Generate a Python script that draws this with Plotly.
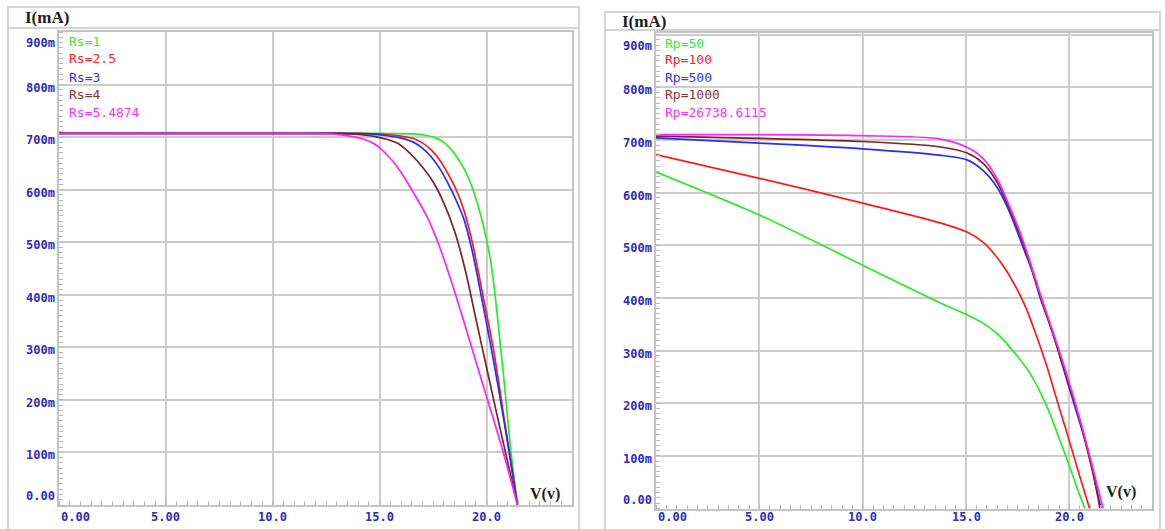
import plotly.graph_objects as go

W, H = 1165, 529

# ---------------- data ----------------
left_names = ["Rs=1", "Rs=2.5", "Rs=3", "Rs=4", "Rs=5.4874"]
left_V = [
    [0, 5, 10, 15, 16.5, 17.1, 17.6, 17.9, 18.2, 18.55, 18.92, 19.2, 19.45, 19.72, 20.0, 20.2, 20.4, 20.66, 20.89, 21.12, 21.45],
    [0, 5, 10, 14, 15.3, 16.0, 16.6, 17.0, 17.4, 17.8, 18.2, 18.6, 18.95, 19.35, 19.86, 20.33, 20.75, 21.1, 21.45],
    [0, 5, 10, 13.5, 14.5, 15.3, 16.0, 16.6, 17.0, 17.4, 17.8, 18.2, 18.6, 18.95, 19.35, 19.72, 20.19, 20.56, 20.98, 21.45],
    [0, 5, 10, 13.0, 14.0, 14.8, 15.4, 15.9, 16.5, 17.0, 17.5, 18.0, 18.5, 19.0, 19.5, 20.0, 20.5, 21.0, 21.45],
    [0, 5, 10, 12.0, 13.0, 13.6, 14.2, 14.8, 15.4, 16.0, 16.6, 17.2, 17.8, 18.4, 19.0, 19.6, 20.2, 20.8, 21.45],
]
left_I = [
    [707, 707, 707, 707, 706, 704, 699, 693, 683, 666, 642, 618, 590, 553, 505, 463, 400, 300, 208, 110, 0],
    [707, 707, 707, 707, 705, 702, 697, 689, 676, 657, 630, 598, 560, 497, 393, 295, 185, 93, 0],
    [707, 707, 707, 707, 706, 703, 698, 690, 679, 663, 641, 612, 578, 543, 480, 405, 305, 222, 120, 0],
    [707, 707, 707, 707, 705, 701, 695, 687, 666, 643, 615, 575, 522, 448, 355, 262, 170, 80, 0],
    [707, 707, 707, 707, 705, 702, 697, 686, 664, 633, 593, 550, 492, 420, 341, 260, 180, 98, 0],
]

right_names = ["Rp=50", "Rp=100", "Rp=500", "Rp=1000", "Rp=26738.6115"]
right_V = [
    [0, 5.03, 10.0, 14.22, 15.0, 15.82, 16.5, 17.13, 18.09, 18.92, 19.54, 20.03, 20.41, 20.75],
    [0, 5, 10, 13.7, 15.05, 15.82, 16.4, 16.9, 17.35, 17.8, 18.3, 18.92, 19.40, 19.89, 20.37, 20.98],
    [0, 5, 10, 13.7, 15.05, 15.82, 16.5, 17.13, 17.76, 18.24, 18.58, 19.21, 19.69, 20.17, 20.66, 21.09, 21.48],
    [0, 5, 10, 13.7, 15.05, 15.82, 16.5, 17.13, 17.76, 18.58, 19.69, 20.66, 21.53],
    [0, 5, 10, 13.7, 15.05, 15.82, 16.5, 17.13, 17.76, 18.58, 19.69, 20.66, 21.63],
]
right_I = [
    [639, 557, 462, 382, 369, 352, 332, 306, 257, 193, 130, 78, 35, 0],
    [672, 627, 580, 543, 525, 506, 482, 455, 425, 390, 340, 269, 206, 143, 79, 0],
    [704, 694, 683, 671, 662, 642, 610, 561, 496, 447, 401, 333, 269, 206, 143, 79, 0],
    [707, 703, 697, 687, 675, 656, 620, 566, 504, 405, 272, 145, 0],
    [710, 710, 708, 702, 686, 665, 627, 572, 509, 409, 278, 149, 0],
]

colors = ["#22ee22", "#ff1a1a", "#2a2aff", "#7a2424", "#ff22ff"]
text_colors = ["#33ee33", "#ff2222", "#3333ff", "#8a3535", "#ff33ff"]

x_ticks = [0, 5, 10, 15, 20]
x_ticktext = ["0.00", "5.00", "10.0", "15.0", "20.0"]
y_ticks = [0, 100, 200, 300, 400, 500, 600, 700, 800, 900]
y_ticktext = ["0.00", "100m", "200m", "300m", "400m", "500m", "600m", "700m", "800m", "900m"]

y_title = "I(mA)"
x_title = "V(v)"

# ---------------- layout helpers ----------------
def px(x):
    return x / W

def py(y):
    return 1 - y / H

GRID = "#cccccc"
TICKC = "#2b2bc8"

fig = go.Figure()

panels = [
    dict(xa="x", ya="y", names=left_names, V=left_V, I=left_I,
         xdom=[px(59), px(572)], ydom=[py(505), py(32)], yr=[0, 900],
         frame=(8, 7, 579, 545), sep=28, title_xy=(23, 18),
         vlab=(545, 494), leg_x=67, leg_y=[42, 59, 77, 94, 112], ylab_x=57),
    dict(xa="x2", ya="y2", names=right_names, V=right_V, I=right_I,
         xdom=[px(656), px(1152)], ydom=[py(508.5), py(33)], yr=[0, 903],
         frame=(605, 12, 1160, 545), sep=30, title_xy=(620, 22),
         vlab=(1121, 492), leg_x=663, leg_y=[43, 60, 78, 95, 112], ylab_x=654),
]

shapes = []
annotations = []

for k, p in enumerate(panels):
    for i, name in enumerate(p["names"]):
        fig.add_trace(go.Scatter(
            x=p["V"][i], y=p["I"][i], mode="lines", name=name,
            line=dict(color=colors[i], width=1.7, shape="spline", smoothing=0.8),
            xaxis=p["xa"], yaxis=p["ya"], showlegend=False, hoverinfo="skip",
        ))
        annotations.append(dict(
            text=name, xref="paper", yref="paper",
            x=px(p["leg_x"]), y=py(p["leg_y"][i]), xanchor="left", yanchor="middle",
            showarrow=False, font=dict(family="DejaVu Sans Mono", size=13, color=text_colors[i]),
        ))
    # outer frame
    x0, y0, x1, y1 = p["frame"]
    shapes.append(dict(type="rect", xref="paper", yref="paper",
                       x0=px(x0), x1=px(x1), y0=py(y1), y1=py(y0),
                       line=dict(color="#d4d4d4", width=2), layer="below"))
    shapes.append(dict(type="line", xref="paper", yref="paper",
                       x0=px(x0), x1=px(x1), y0=py(p["sep"]), y1=py(p["sep"]),
                       line=dict(color="#d4d4d4", width=2), layer="below"))
    # titles
    annotations.append(dict(text="<b>" + y_title + "</b>", xref="paper", yref="paper",
                            x=px(p["title_xy"][0]), y=py(p["title_xy"][1]),
                            xanchor="left", yanchor="middle", showarrow=False,
                            font=dict(family="Liberation Serif", size=17, color="#1e1e1e")))
    annotations.append(dict(text="<b>" + x_title + "</b>", xref="paper", yref="paper",
                            x=px(p["vlab"][0]), y=py(p["vlab"][1]),
                            xanchor="center", yanchor="middle", showarrow=False,
                            font=dict(family="Liberation Serif", size=16, color="#1e1e1e")))
    # tick labels
    for v, t in zip(x_ticks, x_ticktext):
        annotations.append(dict(text="<b>" + t + "</b>", xref=p["xa"], yref="paper",
                                x=v, y=py(517), xanchor="left" if v == 0 else "center",
                                yanchor="middle", showarrow=False,
                                font=dict(family="DejaVu Sans Mono", size=12, color=TICKC)))
    for v, t in zip(y_ticks, y_ticktext):
        shift = -3
        if v == 900:
            shift = -11
        elif v == 0:
            shift = 9
        annotations.append(dict(text="<b>" + t + "</b>", xref="paper", yref=p["ya"],
                                x=px(p["ylab_x"]), y=v, yshift=shift, xanchor="right",
                                yanchor="middle", showarrow=False,
                                font=dict(family="DejaVu Sans Mono", size=12, color=TICKC)))

axis_common = dict(
    showgrid=True, gridcolor=GRID, gridwidth=2,
    showline=True, linecolor="#c4c4c4", linewidth=2, mirror=True,
    ticks="", showticklabels=False, zeroline=False, fixedrange=True,
)

fig.update_layout(
    width=W, height=H,
    margin=dict(l=0, r=0, t=0, b=0),
    paper_bgcolor="white", plot_bgcolor="white",
    xaxis=dict(domain=panels[0]["xdom"], range=[0, 24], tickvals=x_ticks, anchor="y",
               minor=dict(dtick=0.5, ticks="inside", ticklen=4, tickcolor="#b8b8b8", tickwidth=1, showgrid=False),
               **axis_common),
    yaxis=dict(domain=panels[0]["ydom"], range=panels[0]["yr"], tickvals=y_ticks, anchor="x",
               minor=dict(dtick=10, ticks="inside", ticklen=4, tickcolor="#b8b8b8", tickwidth=1, showgrid=False),
               **axis_common),
    xaxis2=dict(domain=panels[1]["xdom"], range=[0, 24], tickvals=x_ticks, anchor="y2",
                minor=dict(dtick=0.5, ticks="inside", ticklen=4, tickcolor="#b8b8b8", tickwidth=1, showgrid=False),
                **axis_common),
    yaxis2=dict(domain=panels[1]["ydom"], range=panels[1]["yr"], tickvals=y_ticks, anchor="x2",
                minor=dict(dtick=10, ticks="inside", ticklen=4, tickcolor="#b8b8b8", tickwidth=1, showgrid=False),
                **axis_common),
    shapes=shapes,
    annotations=annotations,
)

fig.write_html("out.html", config={"displayModeBar": False},
               post_script="document.body.style.margin='0';")
